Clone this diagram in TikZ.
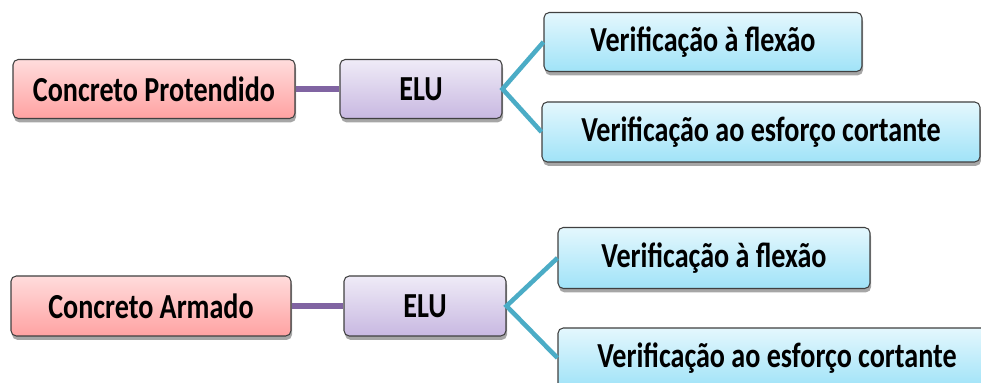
\documentclass[tikz,border=0pt]{standalone}
\usepackage{fontspec}
\setmainfont{Carlito}[FakeStretch=0.8]
\usepackage{tikz}
\usetikzlibrary{shadows,positioning}
\definecolor{rosetop}{HTML}{FFDCDC}
\definecolor{rosebot}{HTML}{FFA2A2}
\definecolor{liltop}{HTML}{EFEBF7}
\definecolor{lilbot}{HTML}{C8B8E1}
\definecolor{aquatop}{HTML}{E4F7FD}
\definecolor{aquabot}{HTML}{A0E3F8}
\definecolor{plumline}{HTML}{8064A2}
\definecolor{aqualine}{HTML}{4BACC6}
\definecolor{edgegray}{HTML}{404040}
\tikzset{
  mapbox/.style={
    draw=edgegray,
    rounded corners=3pt,
    line width=0.6pt,
    minimum height=1.18cm,
    align=center,
    text=black,
    font=\bfseries\fontsize{20}{24}\selectfont,
    drop shadow={shadow xshift=0.6pt, shadow yshift=-2.2pt, opacity=0.35, fill=black}
  },
  rootbox/.style={mapbox, top color=rosetop, bottom color=rosebot, minimum width=5.64cm},
  stagebox/.style={mapbox, top color=liltop, bottom color=lilbot, minimum width=3.24cm},
  checkbox/.style={mapbox, top color=aquatop, bottom color=aquabot},
  rootlink/.style={draw=plumline, line width=3.2pt},
  checklink/.style={draw=aqualine, line width=2.6pt}
}
\begin{document}
\begin{tikzpicture}
  \useasboundingbox (0,0) rectangle (19.62,7.66);

  \node[rootbox] (cp) at (3.08,5.88) {Concreto Protendido};
  \node[stagebox] (elup) at (8.42,5.88) {ELU};
  \node[checkbox, minimum width=6.36cm] (flexp) at (14.06,6.82) {Verificação à flexão};
  \node[checkbox, minimum width=8.76cm, minimum height=1.2cm] (cortp) at (15.22,5.02) {Verificação ao esforço cortante};

  \node[rootbox, minimum height=1.2cm, minimum width=5.6cm] (ca) at (3.02,1.54) {Concreto Armado};
  \node[stagebox, minimum height=1.2cm] (elua) at (8.5,1.54) {ELU};
  \node[checkbox, minimum width=6.24cm, minimum height=1.22cm] (flexa) at (14.28,2.5) {Verificação à flexão};
  \node[checkbox, minimum width=8.76cm, minimum height=1.2cm] (corta) at (15.54,0.5) {Verificação ao esforço cortante};

  \draw[rootlink] (cp.east) -- (elup.west);
  \draw[checklink] (flexp.west) -- (elup.east) -- (cortp.west);

  \draw[rootlink] (ca.east) -- (elua.west);
  \draw[checklink] (flexa.west) -- (elua.east) -- (corta.west);
\end{tikzpicture}
\end{document}
